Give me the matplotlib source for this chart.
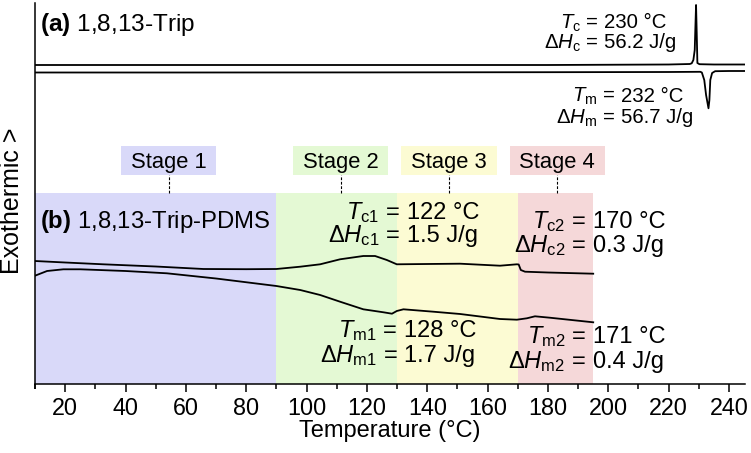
import matplotlib
matplotlib.use("Agg")
import matplotlib.pyplot as plt
from matplotlib.patches import Rectangle

plt.rcParams['font.family'] = ['Liberation Sans', 'DejaVu Sans']
plt.rcParams['mathtext.fontset'] = 'custom'
plt.rcParams['mathtext.rm'] = 'Liberation Sans'
plt.rcParams['mathtext.it'] = 'Liberation Sans:italic'
plt.rcParams['mathtext.bf'] = 'Liberation Sans:bold'

# ---------------- data (arbitrary heat-flow units, exothermic up) ----------------
# (a) 1,8,13-Trip, cooling
a_cool_T = [10, 60, 120, 180, 220, 227.0, 227.64, 228.19, 228.64, 228.86, 229.08, 229.30, 229.52, 230.2, 235, 245]
a_cool_hf = [319, 319, 319, 319, 319.5, 320, 320.7, 324, 334, 357, 379, 351, 321, 319.8, 319.5, 319.5]
# (a) 1,8,13-Trip, heating
a_heat_T = [10, 60, 120, 180, 220, 230.5, 231.0, 231.8, 232.4, 233.2, 233.5, 233.8, 234.4, 235.4, 240, 245]
a_heat_hf = [311.5, 311.5, 311.6, 311.8, 312, 312.2, 311.5, 304, 289, 275.7, 284, 304, 311, 312.8, 313, 313]

# (b) 1,8,13-Trip-PDMS, cooling
b_cool_T = [10, 20, 32.6, 50, 65.8, 80, 90, 97.9, 104.5, 111.1, 118.8, 122.7, 126.6, 129.9, 140, 150.9,
            164.1, 169.7, 170.3, 171.0, 172.4, 180, 195]
b_cool_hf = [123, 121.5, 119.7, 117.5, 115, 114.8, 115, 117.3, 119.7, 124.7, 128, 128, 124, 119.7, 120, 120.3,
             118.3, 119.7, 119.5, 114, 112.3, 111.5, 110.3]
# (b) 1,8,13-Trip-PDMS, heating
b_heat_T = [10, 14, 19.4, 25, 40, 53.7, 70, 90, 97.9, 104.5, 111.1, 118.8, 125.5, 128.3, 129.9, 132.1,
            142, 150.9, 164.1, 169.7, 173, 175.7, 180.6, 195]
b_heat_hf = [108.3, 113, 114.7, 114.7, 113, 110.7, 105.5, 98, 94, 89, 82.3, 74.7, 71.7, 70.3, 73, 74.7,
             72.3, 70, 65, 64.3, 65.7, 67.7, 66.3, 61.7]

stage_names = ['Stage 1', 'Stage 2', 'Stage 3', 'Stage 4']
stage_bounds = [(10, 90), (90, 130), (130, 170), (170, 195)]
stage_label_T = [54.3, 111.3, 147.2, 183.1]
stage_colors = ['#D9D9F9', '#E4F9D4', '#FCFBD3', '#F5D8D9']

xticks = [20, 40, 60, 80, 100, 120, 140, 160, 180, 200, 220, 240]

# ---------------- figure ----------------
fig = plt.figure(figsize=(7.51, 4.53), dpi=100)
ax = fig.add_axes([35 / 751, 69 / 453, 710 / 751, 381 / 453])
ax.set_xlim(10, 245.3)
ax.set_ylim(0, 381)

shade_top = 191.3
for (x0, x1), c in zip(stage_bounds, stage_colors):
    ax.add_patch(Rectangle((x0, 0), x1 - x0, shade_top, facecolor=c, edgecolor='none', zorder=0))

box_w = 31.6
for name, xc, c in zip(stage_names, stage_label_T, stage_colors):
    ax.add_patch(Rectangle((xc - box_w / 2, 209), box_w, 29, facecolor=c, edgecolor='none', zorder=1))
    ax.text(xc, 216.3, name, ha='center', va='baseline', fontsize=15.8, zorder=2)
    ax.plot([xc, xc], [shade_top, 209], color='black', lw=0.8, ls=(0, (2.5, 1.5)), zorder=2)

lw = 1.3
ax.plot(a_cool_T, a_cool_hf, color='black', lw=lw, zorder=3)
ax.plot(a_heat_T, a_heat_hf, color='black', lw=lw, zorder=3)
ax.plot(b_cool_T, b_cool_hf, color='black', lw=lw, zorder=3)
ax.plot(b_heat_T, b_heat_hf, color='black', lw=lw, zorder=3)

ax.text(11.7, 353, r'$\mathbf{(a)}$ 1,8,13-Trip', fontsize=17.6, va='baseline', ha='left')
ax.text(11.7, 155.7, r'$\mathbf{(b)}$ 1,8,13-Trip-PDMS', fontsize=17.2, va='baseline', ha='left')


def eq_label(x_eq, y, lhs, rhs, fs):
    ax.text(x_eq, y, lhs + ' =', ha='right', va='baseline', fontsize=fs, zorder=4)
    ax.annotate(rhs, xy=(x_eq, y), xytext=(0.278 * fs, 0), textcoords='offset points',
                ha='left', va='baseline', fontsize=fs, zorder=4)


fa = 14.7
fb = 17.0
eq_label(196.7, 355.7, r'$T_\mathrm{c}$', '230 °C', fa)
eq_label(196.7, 335.7, r'Δ$H_\mathrm{c}$', '56.2 J/g', fa)
eq_label(202.2, 282.3, r'$T_\mathrm{m}$', '232 °C', fa)
eq_label(202.2, 260.7, r'Δ$H_\mathrm{m}$', '56.7 J/g', fa)
eq_label(131.0, 165.0, r'$T_\mathrm{c1}$', '122 °C', fb)
eq_label(131.0, 142.3, r'Δ$H_\mathrm{c1}$', '1.5 J/g', fb)
eq_label(130.2, 47.3, r'$T_\mathrm{m1}$', '128 °C', fb)
eq_label(130.2, 22.3, r'Δ$H_\mathrm{m1}$', '1.7 J/g', fb)
eq_label(192.6, 155.7, r'$T_\mathrm{c2}$', '170 °C', fb)
eq_label(192.6, 131.7, r'Δ$H_\mathrm{c2}$', '0.3 J/g', fb)
eq_label(192.6, 40.7, r'$T_\mathrm{m2}$', '171 °C', fb)
eq_label(192.6, 16.3, r'Δ$H_\mathrm{m2}$', '0.4 J/g', fb)

for side in ['top', 'right']:
    ax.spines[side].set_visible(False)
for side in ['left', 'bottom']:
    ax.spines[side].set_linewidth(1.1)
ax.set_yticks([])
ax.set_xticks(xticks)
ax.set_xticks([t + 10 for t in [0] + xticks[:-1]] + [10], minor=True)
ax.tick_params(axis='x', which='major', direction='out', length=6, width=1.1, labelsize=16.8, pad=3.5)
ax.tick_params(axis='x', which='minor', direction='out', length=3.5, width=1.1)
ax.set_xlabel('Temperature (°C)', fontsize=17, labelpad=0)
ax.set_ylabel('Exothermic >', fontsize=18)
ax.yaxis.set_label_coords(-0.0155, 0.48)

fig.savefig('out.png', dpi=100)
